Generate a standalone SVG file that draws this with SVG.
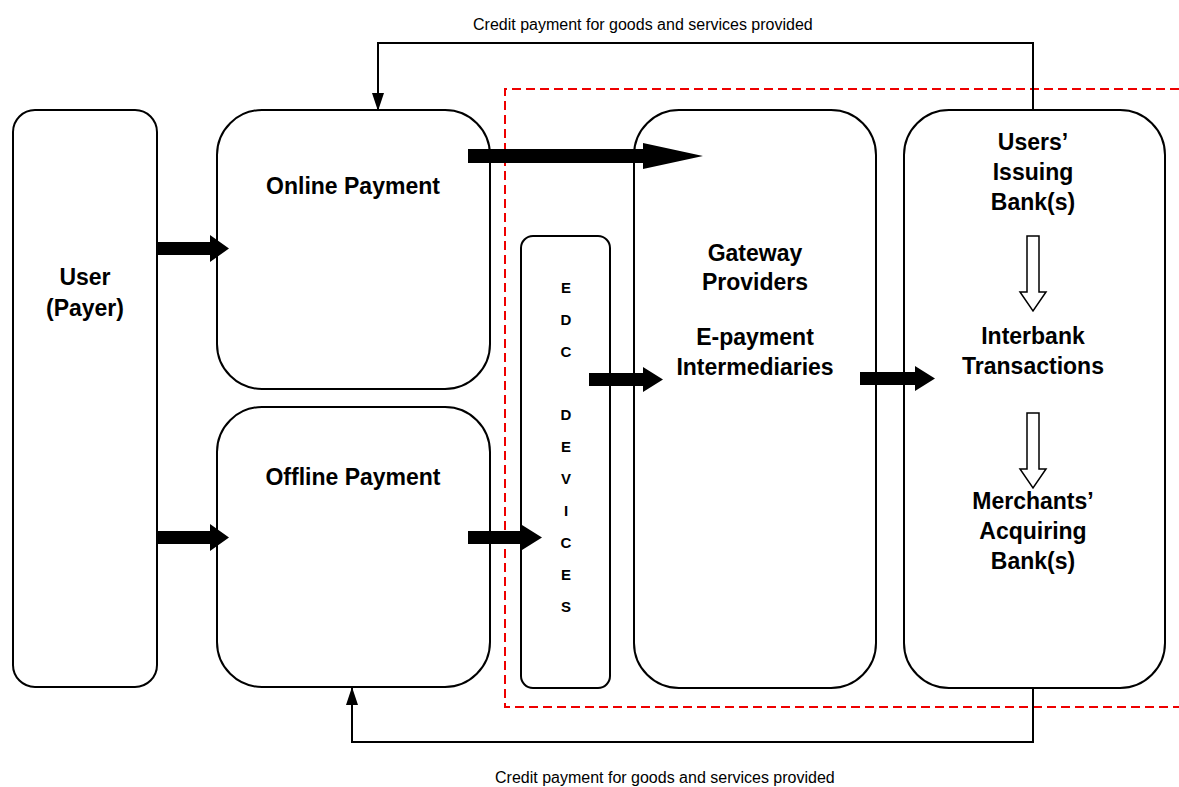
<svg xmlns="http://www.w3.org/2000/svg" width="1179" height="787" viewBox="0 0 1179 787">
<defs>
<style>
.box{fill:#fff;stroke:#000;stroke-width:2}
.lbl{font-family:"Liberation Sans",Arial,sans-serif;font-weight:bold;font-size:23px;fill:#000;text-anchor:middle}
.edc{font-family:"Liberation Sans",Arial,sans-serif;font-weight:bold;font-size:15px;fill:#000;text-anchor:middle}
.cap{font-family:"Liberation Sans",Arial,sans-serif;font-size:16px;fill:#000}
.blk{fill:#000;stroke:none}
.hol{fill:#fff;stroke:#000;stroke-width:1.5}
.line{fill:none;stroke:#000;stroke-width:2}
</style>
<marker id="tri" viewBox="0 0 18 12" refX="17" refY="6" markerWidth="18" markerHeight="12" markerUnits="userSpaceOnUse" orient="auto">
<path d="M0,0 L18,6 L0,12 Z" fill="#000"/>
</marker>
</defs>
<rect width="1179" height="787" fill="#fff"/>
<path d="M1179,89 H505 V707 H1179" fill="none" stroke="#e00" stroke-width="2" stroke-dasharray="9,5"/>
<g id="user"><rect class="box" x="13" y="110" width="144" height="577" rx="22"/>
<text class="lbl" x="85" y="285">User</text><text class="lbl" x="85" y="316">(Payer)</text></g>
<g id="online"><rect class="box" x="217" y="110" width="273" height="279" rx="45"/>
<text class="lbl" x="353" y="194">Online Payment</text></g>
<g id="offline"><rect class="box" x="217" y="407" width="273" height="280" rx="45"/>
<text class="lbl" x="353" y="485">Offline Payment</text></g>
<g id="edc"><rect class="box" x="521" y="236" width="89" height="452" rx="12"/>
<text class="edc" x="566" y="293">E</text><text class="edc" x="566" y="325">D</text><text class="edc" x="566" y="357">C</text>
<text class="edc" x="566" y="420">D</text><text class="edc" x="566" y="452">E</text><text class="edc" x="566" y="484">V</text>
<text class="edc" x="566" y="516">I</text><text class="edc" x="566" y="548">C</text><text class="edc" x="566" y="580">E</text><text class="edc" x="566" y="612">S</text></g>
<g id="gateway"><rect class="box" x="634" y="110" width="242" height="578" rx="45"/>
<text class="lbl" x="755" y="261">Gateway</text><text class="lbl" x="755" y="290">Providers</text>
<text class="lbl" x="755" y="345">E-payment</text><text class="lbl" x="755" y="375">Intermediaries</text></g>
<g id="banks"><rect class="box" x="904" y="110" width="261" height="578" rx="45"/>
<text class="lbl" x="1033" y="150">Users’</text><text class="lbl" x="1033" y="180">Issuing</text><text class="lbl" x="1033" y="210">Bank(s)</text>
<text class="lbl" x="1033" y="344">Interbank</text><text class="lbl" x="1033" y="374">Transactions</text>
<text class="lbl" x="1033" y="509">Merchants’</text><text class="lbl" x="1033" y="539">Acquiring</text><text class="lbl" x="1033" y="569">Bank(s)</text>
<polygon class="hol" points="1027,236 1039,236 1039,292 1046,292 1033,311 1020,292 1027,292"/>
<polygon class="hol" points="1027,413 1039,413 1039,469 1046,469 1033,488 1020,469 1027,469"/></g>
<g id="connectors">
<polygon class="blk" points="156,242 210,242 210,235 229,248.5 210,262 210,255 156,255"/>
<polygon class="blk" points="156,531 210,531 210,524 229,537.5 210,551 210,544 156,544"/>
<polygon class="blk" points="468,149 643,149 643,143 703,156 643,169 643,163 468,163"/>
<polygon class="blk" points="468,531 522,531 522,525 542,537.5 522,550 522,544 468,544"/>
<polygon class="blk" points="589,373 643,373 643,367 663,379.5 643,392 643,386 589,386"/>
<polygon class="blk" points="860,372 915,372 915,366 935,378.5 915,391 915,385 860,385"/>
<polyline class="line" points="1033,110 1033,43 378,43 378,110" marker-end="url(#tri)"/>
<polyline class="line" points="1033,688 1033,742 352,742 352,688" marker-end="url(#tri)"/>
</g>
<text class="cap" x="473" y="30">Credit payment for goods and services provided</text>
<text class="cap" x="495" y="783">Credit payment for goods and services provided</text>
</svg>
